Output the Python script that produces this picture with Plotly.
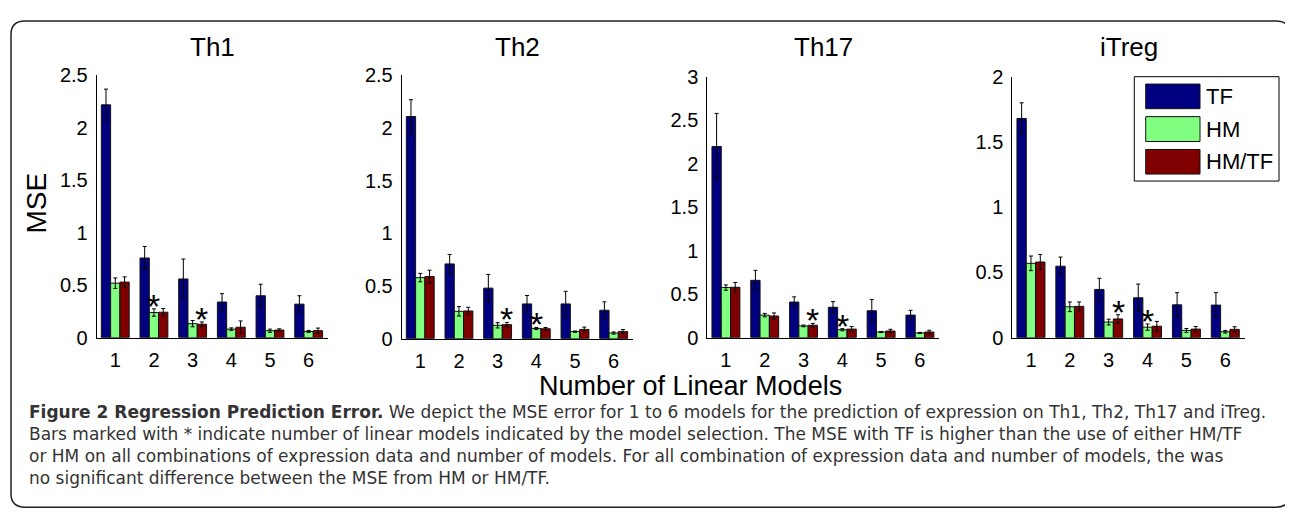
import plotly.graph_objects as go

# page body has an 8px margin: the figure is drawn offset by (8, 8) in the window
OX, OY = 8, 8
FW, FH = 1285, 513

# ---------------- data ----------------
models = [1, 2, 3, 4, 5, 6]
series_names = ["TF", "HM", "HM/TF"]
series_colors = ["#000080", "#80FF80", "#800000"]
panel_titles = ["Th1", "Th2", "Th17", "iTreg"]

th1_tf = [2.22, 0.76, 0.56, 0.34, 0.40, 0.32]
th1_tf_err = [0.15, 0.11, 0.19, 0.08, 0.11, 0.08]
th1_hm = [0.52, 0.24, 0.134, 0.082, 0.067, 0.06]
th1_hm_err = [0.05, 0.035, 0.03, 0.012, 0.015, 0.01]
th1_hmtf = [0.53, 0.243, 0.128, 0.10, 0.073, 0.067]
th1_hmtf_err = [0.05, 0.035, 0.022, 0.06, 0.012, 0.025]

th2_tf = [2.11, 0.71, 0.48, 0.33, 0.33, 0.27]
th2_tf_err = [0.16, 0.09, 0.13, 0.08, 0.12, 0.08]
th2_hm = [0.58, 0.26, 0.127, 0.097, 0.067, 0.054]
th2_hm_err = [0.04, 0.045, 0.025, 0.01, 0.006, 0.01]
th2_hmtf = [0.59, 0.263, 0.133, 0.094, 0.088, 0.067]
th2_hmtf_err = [0.06, 0.035, 0.022, 0.012, 0.022, 0.02]

th17_tf = [2.20, 0.66, 0.41, 0.35, 0.31, 0.26]
th17_tf_err = [0.38, 0.115, 0.06, 0.065, 0.13, 0.055]
th17_hm = [0.577, 0.26, 0.136, 0.092, 0.066, 0.055]
th17_hm_err = [0.03, 0.02, 0.01, 0.012, 0.006, 0.006]
th17_hmtf = [0.58, 0.25, 0.143, 0.099, 0.077, 0.066]
th17_hmtf_err = [0.055, 0.035, 0.022, 0.03, 0.02, 0.02]

itreg_tf = [1.68, 0.548, 0.37, 0.306, 0.252, 0.25]
itreg_tf_err = [0.12, 0.07, 0.085, 0.105, 0.093, 0.095]
itreg_hm = [0.57, 0.237, 0.12, 0.081, 0.056, 0.046]
itreg_hm_err = [0.056, 0.037, 0.022, 0.024, 0.015, 0.01]
itreg_hmtf = [0.58, 0.24, 0.144, 0.088, 0.066, 0.064]
itreg_hmtf_err = [0.058, 0.034, 0.032, 0.037, 0.02, 0.02]

# bars marked with * : (model number, series)
th1_stars = [(2, "HM"), (3, "HM/TF")]
th2_stars = [(3, "HM/TF"), (4, "HM")]
th17_stars = [(3, "HM/TF"), (4, "HM")]
itreg_stars = [(3, "HM/TF"), (4, "HM")]

y_max = [2.5, 2.5, 3, 2]

caption_lines = [
    "<b>Figure 2 Regression Prediction Error.</b> We depict the MSE error for 1 to 6 models for the prediction of expression on Th1, Th2, Th17 and iTreg.",
    "Bars marked with * indicate number of linear models indicated by the model selection. The MSE with TF is higher than the use of either HM/TF",
    "or HM on all combinations of expression data and number of models. For all combination of expression data and number of models, the was",
    "no significant difference between the MSE from HM or HM/TF.",
]

panels = [
    (th1_tf, th1_tf_err, th1_hm, th1_hm_err, th1_hmtf, th1_hmtf_err, th1_stars),
    (th2_tf, th2_tf_err, th2_hm, th2_hm_err, th2_hmtf, th2_hmtf_err, th2_stars),
    (th17_tf, th17_tf_err, th17_hm, th17_hm_err, th17_hmtf, th17_hmtf_err, th17_stars),
    (itreg_tf, itreg_tf_err, itreg_hm, itreg_hm_err, itreg_hmtf, itreg_hmtf_err, itreg_stars),
]

# ---------------- layout geometry (window pixels) ----------------
def px(x):
    return (x - OX) / FW

def py(y):
    return 1 - (y - OY) / FH

panel_x = [(96.7, 328.0), (401.7, 633.0), (707.3, 939.3), (1012.3, 1244.7)]
panel_y = [(341.0, 67.0), (342.0, 67.0), (341.0, 68.5), (341.0, 68.3)]
BARGAP = 0.28
bar_w = (1 - BARGAP) / 3
offsets = {"TF": -bar_w, "HM": 0.0, "HM/TF": bar_w}

FONT = "Liberation Sans, Arial, Helvetica, sans-serif"

fig = go.Figure()
annotations = []
shapes = []

for i, (tf, tfe, hm, hme, hmtf, hmtfe, stars) in enumerate(panels):
    k = "" if i == 0 else str(i + 1)
    vals = [(tf, tfe), (hm, hme), (hmtf, hmtfe)]
    for (v, e), name, col in zip(vals, series_names, series_colors):
        fig.add_trace(go.Bar(
            x=models, y=v, name=name, xaxis="x" + k, yaxis="y" + k,
            marker=dict(color=col, line=dict(color="#111111", width=1)),
            error_y=dict(type="data", array=e, visible=True, color="black",
                         thickness=1, width=2),
            showlegend=False,
        ))
    x0, x1 = panel_x[i]
    yb, yt = panel_y[i]
    fig.layout["xaxis" + k] = dict(
        domain=[px(x0), px(x1)], anchor="y" + k, range=[0.52, 6.5],
        tickvals=models, ticktext=[str(m) for m in models],
        showline=True, linecolor="black", linewidth=1, ticks="",
        showgrid=False, zeroline=False, ticklabelstandoff=4,
        tickfont=dict(family=FONT, size=20, color="black"),
    )
    fig.layout["yaxis" + k] = dict(
        domain=[py(yb), py(yt)], anchor="x" + k, range=[0, y_max[i]],
        dtick=0.5, tick0=0,
        showline=True, linecolor="black", linewidth=1, ticks="",
        showgrid=False, zeroline=False, ticklabelstandoff=4,
        tickfont=dict(family=FONT, size=20, color="black"),
    )
    # title
    annotations.append(dict(
        text=panel_titles[i], x=px((x0 + x1) / 2), y=py(37.5), xref="paper", yref="paper",
        xanchor="center", yanchor="middle", showarrow=False,
        font=dict(family=FONT, size=26, color="black")))
    # stars
    lookup = dict(zip(series_names, vals))
    for m, s in stars:
        v, e = lookup[s]
        idx = models.index(m)
        annotations.append(dict(
            text="*", x=m + offsets[s], y=v[idx] + e[idx], xref="x" + k, yref="y" + k,
            xanchor="center", yanchor="middle", showarrow=False, yshift=3,
            font=dict(family=FONT, size=34, color="black")))

# axis labels
annotations.append(dict(
    text="MSE", x=px(36.7), y=py(200), xref="paper", yref="paper", textangle=-90,
    xanchor="center", yanchor="middle", showarrow=False,
    font=dict(family=FONT, size=28, color="black")))
annotations.append(dict(
    text="Number of Linear Models", x=px(690.8), y=py(391), xref="paper", yref="paper",
    xanchor="center", yanchor="middle", showarrow=False,
    font=dict(family=FONT, size=27, color="black")))

# legend (drawn manually to match the large swatches)
shapes.append(dict(type="rect", xref="paper", yref="paper",
                   x0=px(1134.3), x1=px(1279), y0=py(177.3), y1=py(68.3),
                   line=dict(color="black", width=1), fillcolor="white", layer="above"))
sw_rows = [(76, 101.7), (110, 136), (144.3, 170)]
for (t, b), name, col in zip(sw_rows, series_names, series_colors):
    shapes.append(dict(type="rect", xref="paper", yref="paper",
                       x0=px(1145.7), x1=px(1200), y0=py(b), y1=py(t),
                       line=dict(color="#111111", width=1), fillcolor=col, layer="above"))
    annotations.append(dict(
        text=name, x=px(1204), y=py((t + b) / 2), xref="paper", yref="paper",
        xanchor="left", yanchor="middle", showarrow=False,
        font=dict(family=FONT, size=22, color="black")))

# caption (one multi-line text block)
annotations.append(dict(
    text="<br>".join(caption_lines), x=px(27), y=py(406), xref="paper", yref="paper",
    xanchor="left", yanchor="top", showarrow=False, align="left",
    font=dict(family="DejaVu Sans, Open Sans, sans-serif", size=17, color="#333333")))

# rounded border frame
r = 14
L, R, T, B = 11, 1290, 10, 518
path = (f"M {px(L + r)},{py(T)} L {px(R - r)},{py(T)} Q {px(R)},{py(T)} {px(R)},{py(T + r)} "
        f"L {px(R)},{py(B - r)} Q {px(R)},{py(B)} {px(R - r)},{py(B)} "
        f"L {px(L + r)},{py(B)} Q {px(L)},{py(B)} {px(L)},{py(B - r)} "
        f"L {px(L)},{py(T + r)} Q {px(L)},{py(T)} {px(L + r)},{py(T)} Z")
shapes.append(dict(type="path", xref="paper", yref="paper", path=path,
                   line=dict(color="#222222", width=1.5), layer="below"))

fig.update_layout(
    width=FW, height=FH, margin=dict(l=0, r=0, t=0, b=0),
    paper_bgcolor="white", plot_bgcolor="rgba(0,0,0,0)",
    barmode="group", bargap=BARGAP, bargroupgap=0,
    annotations=annotations, shapes=shapes, showlegend=False,
)

fig.write_html("out.html")
